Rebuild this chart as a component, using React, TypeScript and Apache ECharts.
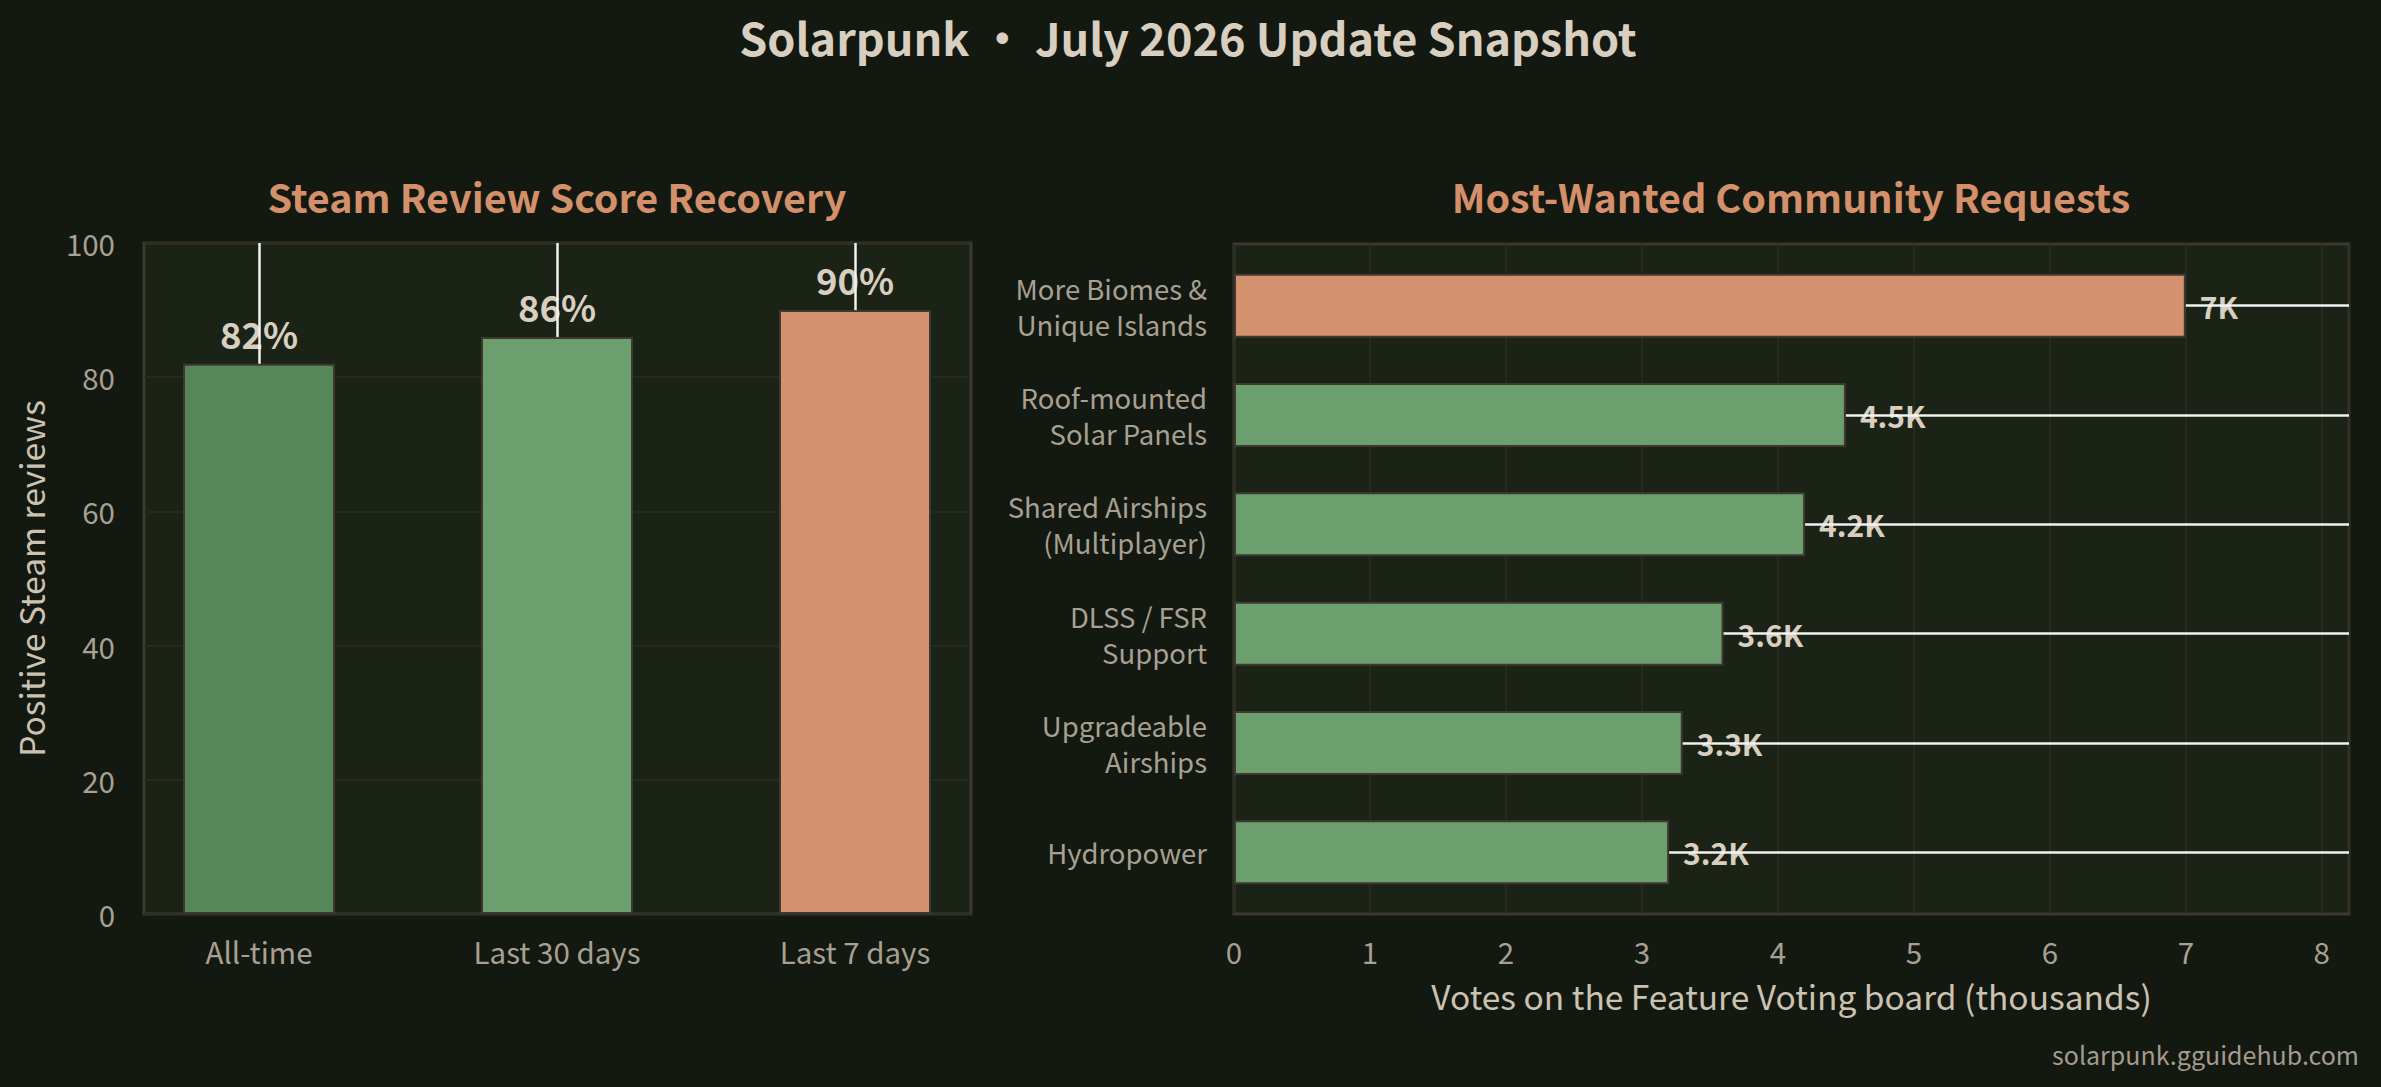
import React, { useEffect, useRef } from "react";
import * as echarts from "echarts";

const reviewCategories = ["All-time", "Last 30 days", "Last 7 days"];
const reviewScores = [82, 86, 90];
const reviewColors = ["#558758", "#6b9f6d", "#d4916f"];
const reviewTicks = [0, 20, 40, 60, 80, 100];

const requestCategories = [
  "More Biomes &\nUnique Islands",
  "Roof-mounted\nSolar Panels",
  "Shared Airships\n(Multiplayer)",
  "DLSS / FSR\nSupport",
  "Upgradeable\nAirships",
  "Hydropower",
];
const requestVotes = [7, 4.5, 4.2, 3.6, 3.3, 3.2];
const requestColors = ["#d4916f", "#6b9f6d", "#6b9f6d", "#6b9f6d", "#6b9f6d", "#6b9f6d"];
const voteTicks = [0, 1, 2, 3, 4, 5, 6, 7, 8];
const voteMax = 8.2;

const FONT = '"Noto Sans CJK SC", "Noto Sans", sans-serif';
const BG = "#131910";
const PLOT_BG = "#1b2216";
const FRAME = "#3e3830";
const GRIDLINE = "#2a2c22";
const TICK = "#a8a092";
const AXNAME = "#cbc2b2";
const LABEL = "#d8cfc0";
const ACCENT = "#d4906a";

export default function App() {
  const ref = useRef<HTMLDivElement>(null);
  useEffect(() => {
    if (!ref.current) return;
    const chart = echarts.init(ref.current, null, { renderer: "svg" });
    const tickLabel = { color: TICK, fontSize: 29.5, fontFamily: FONT };
    const option: any = {
      animation: false,
      backgroundColor: BG,
      textStyle: { fontFamily: FONT },
      graphic: [
        {
          type: "text",
          x: 1188,
          y: 36,
          style: {
            text: "Solarpunk \u2022 July 2026 Update Snapshot",
            fill: LABEL,
            fontSize: 45,
            fontWeight: "bold",
            fontFamily: FONT,
            align: "center",
            verticalAlign: "middle",
          },
        },
        {
          type: "text",
          x: 557,
          y: 195,
          style: {
            text: "Steam Review Score Recovery",
            fill: ACCENT,
            fontSize: 39.5,
            fontWeight: "bold",
            fontFamily: FONT,
            align: "center",
            verticalAlign: "middle",
          },
        },
        {
          type: "text",
          x: 1791,
          y: 195,
          style: {
            text: "Most-Wanted Community Requests",
            fill: ACCENT,
            fontSize: 39.5,
            fontWeight: "bold",
            fontFamily: FONT,
            align: "center",
            verticalAlign: "middle",
          },
        },
        {
          type: "text",
          x: 2359,
          y: 1054,
          style: {
            text: "solarpunk.gguidehub.com",
            fill: "#a39c8e",
            fontSize: 25,
            fontFamily: FONT,
            align: "right",
            verticalAlign: "middle",
          },
        },
      ],
      grid: [
        {
          left: 144,
          top: 243,
          width: 827,
          height: 671,
          show: true,
          backgroundColor: PLOT_BG,
          borderColor: FRAME,
          borderWidth: 3,
        },
        {
          left: 1234,
          top: 244,
          width: 1115,
          height: 670,
          show: true,
          backgroundColor: PLOT_BG,
          borderColor: FRAME,
          borderWidth: 3,
        },
        { left: 110, top: 243, width: 894, height: 671 },
        { left: 1234, top: 251, width: 1115, height: 656 },
      ],
      xAxis: [
        { gridIndex: 0, type: "value", min: 0, max: 1, show: false },
        {
          gridIndex: 1,
          type: "value",
          min: 0,
          max: voteMax,
          interval: 1,
          axisLine: { show: false },
          axisTick: { show: false },
          axisLabel: {
            ...tickLabel,
            margin: 22,
            customValues: voteTicks,
            formatter: (v: number) => String(Math.round(v)),
          },
          splitLine: { show: true, lineStyle: { color: GRIDLINE, width: 1.5 } },
          name: "Votes on the Feature Voting board (thousands)",
          nameLocation: "middle",
          nameGap: 65,
          nameTextStyle: { color: AXNAME, fontSize: 33.5, fontFamily: FONT },
        },
        {
          gridIndex: 2,
          type: "category",
          data: reviewCategories,
          axisLine: { show: false },
          axisTick: { show: false },
          axisLabel: { ...tickLabel, margin: 22 },
          splitLine: { show: false },
        },
        { gridIndex: 3, type: "value", min: 0, max: voteMax, show: false },
      ],
      yAxis: [
        {
          gridIndex: 0,
          type: "value",
          min: reviewTicks[0],
          max: reviewTicks[reviewTicks.length - 1],
          interval: 20,
          axisLine: { show: false },
          axisTick: { show: false },
          axisLabel: { ...tickLabel, margin: 29 },
          splitLine: { show: true, lineStyle: { color: GRIDLINE, width: 1.5 } },
          name: "Positive Steam reviews",
          nameLocation: "middle",
          nameGap: 97,
          nameRotate: 90,
          nameTextStyle: { color: AXNAME, fontSize: 33.5, fontFamily: FONT },
        },
        { gridIndex: 1, type: "value", min: 0, max: 1, show: false },
        { gridIndex: 2, type: "value", min: 0, max: 100, show: false },
        {
          gridIndex: 3,
          type: "category",
          data: requestCategories,
          inverse: true,
          axisLine: { show: false },
          axisTick: { show: false },
          axisLabel: { ...tickLabel, fontSize: 27.5, margin: 27, lineHeight: 36, align: "right" },
          splitLine: { show: false },
        },
      ],
      series: [
        {
          type: "bar",
          xAxisIndex: 2,
          yAxisIndex: 2,
          barWidth: 152,
          data: reviewScores.map((v, i) => ({ value: v, itemStyle: { color: reviewColors[i] } })),
          itemStyle: { borderColor: FRAME, borderWidth: 2 },
          label: {
            show: true,
            position: "top",
            distance: 12,
            formatter: "{c}%",
            color: LABEL,
            fontSize: 36.5,
            fontWeight: 600,
            fontFamily: FONT,
          },
          markLine: {
            silent: true,
            symbol: ["none", "none"],
            label: { show: false },
            lineStyle: { color: "#f2f2f2", width: 2.5, type: "solid" },
            data: reviewScores.map((v, i) => [
              { coord: [reviewCategories[i], v] },
              { coord: [reviewCategories[i], reviewTicks[reviewTicks.length - 1]] },
            ]),
          },
        },
        {
          type: "bar",
          xAxisIndex: 3,
          yAxisIndex: 3,
          barWidth: 64,
          data: requestVotes.map((v, i) => ({ value: v, itemStyle: { color: requestColors[i] } })),
          itemStyle: { borderColor: FRAME, borderWidth: 2 },
          label: {
            show: true,
            position: "right",
            distance: 14,
            formatter: "{c}K",
            color: LABEL,
            fontSize: 30,
            fontWeight: "bold",
            fontFamily: FONT,
          },
          markLine: {
            silent: true,
            symbol: ["none", "none"],
            label: { show: false },
            lineStyle: { color: "#f2f2f2", width: 2.5, type: "solid" },
            data: requestVotes.map((v, i) => [
              { coord: [v, requestCategories[i]] },
              { coord: [voteMax, requestCategories[i]] },
            ]),
          },
        },
      ],
    };
    chart.setOption(option);
    return () => chart.dispose();
  }, []);
  return (
    <div
      ref={ref}
      style={{ position: "fixed", left: 0, top: 0, width: 2381, height: 1087 }}
    />
  );
}
